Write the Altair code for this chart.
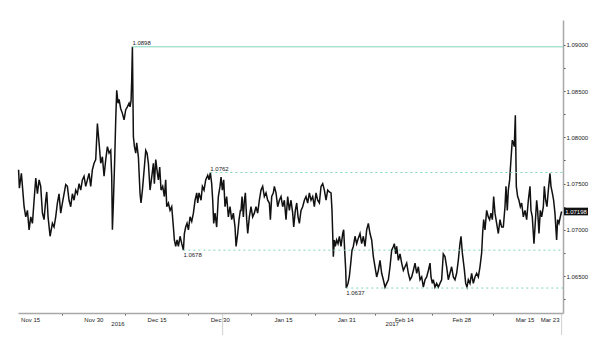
import altair as alt
import pandas as pd

# trading-day index (0 = Nov 11 2016) and rate
t = [0.0, 0.14, 0.49, 0.96, 1.25, 1.54, 1.83, 2.12, 2.41, 2.70, 2.99, 3.28, 3.57, 3.85, 4.15, 4.43, 4.72, 4.90,
     5.13, 5.48, 5.88, 6.17, 6.46, 6.75, 7.04, 7.33, 7.62, 7.91, 8.20, 8.49, 8.78, 9.07, 9.36, 9.65, 9.94,
     10.23, 10.52, 10.81, 11.10, 11.39, 11.68, 11.97, 12.26, 12.55, 12.84, 13.13, 13.42, 13.71, 14.00, 14.29,
     14.58, 14.87, 15.16, 15.45, 15.74, 16.03, 16.20, 16.32, 16.49, 16.72, 16.90, 17.07, 17.30, 17.48, 17.77,
     18.06, 18.35, 18.64, 18.93, 19.22,
     19.39, 19.57, 19.68, 19.80, 19.97, 20.15, 20.38, 20.55, 20.84, 21.13, 21.30, 21.54, 21.88, 22.12, 22.35,
     22.58, 22.87, 23.16, 23.45, 23.62, 23.86, 24.15, 24.32, 24.55, 24.78, 25.07, 25.36, 25.59, 25.77, 26.06,
     26.35, 26.64, 26.93, 27.10, 27.33, 27.57, 27.80, 28.09, 28.38, 28.67, 28.84, 29.07, 29.30, 29.54, 29.83,
     30.12, 30.41, 30.70, 30.99, 31.16, 31.39, 31.74, 31.97, 32.26, 32.55, 32.90, 33.13, 33.36, 33.59, 33.77,
     33.94, 34.17, 34.46, 34.75, 35.04, 35.22, 35.45, 35.68, 35.91, 36.20, 36.49, 36.78, 37.07, 37.36, 37.65,
     37.83, 38.12, 38.35, 38.58,
     38.70, 38.87, 39.10, 39.28, 39.45, 39.68, 39.86, 40.14, 40.43, 40.72, 41.01, 41.30, 41.59, 41.88, 42.17,
     42.46, 42.75, 43.04, 43.33, 43.62, 43.80, 44.03, 44.32, 44.49, 44.78, 45.07, 45.36, 45.65, 45.94, 46.23,
     46.52, 46.81, 47.10, 47.39, 47.68, 47.86, 48.14, 48.38, 48.61, 48.84, 49.13, 49.42, 49.71, 50.00, 50.29,
     50.58, 50.87, 51.16, 51.45, 51.74, 52.03, 52.32, 52.61, 52.90, 53.19, 53.48, 53.77, 54.06, 54.35, 54.52,
     54.64, 54.75, 54.93, 55.10, 55.33, 55.57, 55.80, 56.09, 56.38, 56.55, 56.72, 56.90, 57.00, 57.30, 57.53,
     57.83, 58.00,
     58.23, 58.52, 58.81, 59.10, 59.39, 59.68, 59.97, 60.26, 60.55, 60.84, 61.13, 61.42, 61.71, 62.00, 62.29,
     62.58, 62.87, 63.16, 63.45, 63.74, 64.03, 64.32, 64.61, 64.90, 65.19, 65.36, 65.59, 65.77, 66.06, 66.35,
     66.64, 66.93, 67.22, 67.51, 67.80, 68.09, 68.38, 68.67, 68.96, 69.25, 69.54, 69.83, 70.12, 70.41, 70.70,
     70.99, 71.28, 71.57, 71.74, 71.97, 72.14, 72.43, 72.72, 73.01, 73.30, 73.59, 73.88, 74.17, 74.46, 74.75,
     75.04, 75.33, 75.62, 75.91, 76.20, 76.49, 76.78, 76.96,
     77.19, 77.54, 77.77, 78.00, 78.23, 78.52, 78.81, 79.10, 79.39, 79.68, 79.97, 80.26, 80.55, 80.72, 80.90,
     81.13, 81.42, 81.71, 81.94, 82.17, 82.41, 82.64, 82.87, 83.16, 83.45, 83.74, 84.03, 84.32, 84.61, 84.78,
     85.01, 85.19, 85.42, 85.65, 85.88, 86.06, 86.23, 86.41, 86.58, 86.81, 87.04, 87.28, 87.51, 87.80, 88.09,
     88.38, 88.67, 88.96, 89.13, 89.36, 89.65, 89.83, 90.12, 90.29, 90.52, 90.75, 90.99, 91.28, 91.45, 91.68,
     91.91, 92.15, 92.44, 92.61, 92.84, 93.07, 93.30, 93.59, 93.77, 94.00, 94.23, 94.46]

rate = [1.0765, 1.0745, 1.0761, 1.0725, 1.0714, 1.0721, 1.0700, 1.0714, 1.0707, 1.0732, 1.0756, 1.0739, 1.0754,
        1.0747, 1.0718, 1.0711, 1.0732, 1.0741, 1.0714, 1.0693, 1.0707, 1.0703, 1.0714, 1.0729, 1.0739, 1.0718,
        1.0729, 1.0739, 1.0749, 1.0747, 1.0732, 1.0725, 1.0739, 1.0732, 1.0743, 1.0739, 1.0750, 1.0743, 1.0754,
        1.0758, 1.0747, 1.0754, 1.0761, 1.0747, 1.0765, 1.0772, 1.0776, 1.0815, 1.0794, 1.0772, 1.0779, 1.0758,
        1.0776, 1.0790, 1.0783, 1.0786, 1.0758, 1.0700, 1.0729, 1.0776, 1.0819, 1.0851, 1.0837, 1.0841, 1.0831,
        1.0826, 1.0819, 1.0830, 1.0833, 1.0837,
        1.0833, 1.0840, 1.0862, 1.0898, 1.0801, 1.0790, 1.0783, 1.0794, 1.0779, 1.0739, 1.0729, 1.0743, 1.0768,
        1.0786, 1.0783, 1.0772, 1.0743, 1.0757, 1.0772, 1.0750, 1.0776, 1.0761, 1.0754, 1.0768, 1.0743, 1.0747,
        1.0736, 1.0754, 1.0725, 1.0729, 1.0721, 1.0725, 1.0703, 1.0689, 1.0682, 1.0689, 1.0682, 1.0693, 1.0685,
        1.0678, 1.0696, 1.0703, 1.0707, 1.0700, 1.0714, 1.0709, 1.0718, 1.0732, 1.0740, 1.0729, 1.0740, 1.0732,
        1.0747, 1.0743, 1.0754, 1.0759, 1.0754, 1.0762, 1.0750, 1.0732, 1.0707, 1.0718, 1.0703, 1.0736, 1.0747,
        1.0757, 1.0743, 1.0754, 1.0725, 1.0736, 1.0714, 1.0725, 1.0711, 1.0718, 1.0703, 1.0682, 1.0696, 1.0711,
        1.0721,
        1.0721, 1.0736, 1.0714, 1.0732, 1.0740, 1.0711, 1.0696, 1.0714, 1.0725, 1.0714, 1.0718, 1.0725, 1.0718,
        1.0732, 1.0743, 1.0747, 1.0736, 1.0740, 1.0732, 1.0729, 1.0711, 1.0736, 1.0740, 1.0747, 1.0740, 1.0725,
        1.0732, 1.0736, 1.0725, 1.0732, 1.0711, 1.0736, 1.0721, 1.0732, 1.0718, 1.0703, 1.0721, 1.0729, 1.0714,
        1.0707, 1.0721, 1.0725, 1.0732, 1.0736, 1.0729, 1.0740, 1.0732, 1.0736, 1.0725, 1.0740, 1.0732, 1.0729,
        1.0747, 1.0750, 1.0743, 1.0732, 1.0743, 1.0741, 1.0740, 1.0721, 1.0696, 1.0671, 1.0689, 1.0682, 1.0689,
        1.0685, 1.0693, 1.0682, 1.0696, 1.0700, 1.0678, 1.0657, 1.0637, 1.0642, 1.0649, 1.0667, 1.0678,
        1.0682, 1.0693, 1.0685, 1.0691, 1.0696, 1.0685, 1.0693, 1.0682, 1.0700, 1.0707, 1.0696, 1.0689, 1.0671,
        1.0660, 1.0649, 1.0656, 1.0667, 1.0653, 1.0646, 1.0638, 1.0642, 1.0646, 1.0660, 1.0678, 1.0682, 1.0685,
        1.0674, 1.0682, 1.0667, 1.0674, 1.0664, 1.0656, 1.0660, 1.0664, 1.0653, 1.0646, 1.0649, 1.0656, 1.0664,
        1.0653, 1.0660, 1.0646, 1.0649, 1.0638, 1.0646, 1.0649, 1.0656, 1.0664, 1.0649, 1.0642, 1.0646, 1.0638,
        1.0642, 1.0638, 1.0642, 1.0646, 1.0674, 1.0671, 1.0660, 1.0646, 1.0653, 1.0660, 1.0649, 1.0646, 1.0653,
        1.0667, 1.0685, 1.0693,
        1.0675, 1.0657, 1.0642, 1.0638, 1.0646, 1.0642, 1.0653, 1.0642, 1.0649, 1.0653, 1.0649, 1.0660, 1.0675,
        1.0696, 1.0711, 1.0700, 1.0721, 1.0714, 1.0711, 1.0718, 1.0711, 1.0736, 1.0718, 1.0707, 1.0696, 1.0711,
        1.0703, 1.0703, 1.0725, 1.0747, 1.0721, 1.0743, 1.0754, 1.0776, 1.0797, 1.0794, 1.0790, 1.0824, 1.0747,
        1.0736, 1.0732, 1.0725, 1.0729, 1.0714, 1.0721, 1.0711, 1.0732, 1.0747, 1.0721, 1.0714, 1.0685, 1.0703,
        1.0732, 1.0721, 1.0696, 1.0721, 1.0714, 1.0725, 1.0747, 1.0732, 1.0725, 1.0743, 1.0761, 1.0747, 1.0740,
        1.0732, 1.0718, 1.0689, 1.0711, 1.0707, 1.0714, 1.07198]

level_values = [1.0898, 1.0762, 1.0678, 1.0637]
level_start = [19.80, 33.36, 28.67, 57.00]
level_text = ["1.0898", "1.0762", "1.0678", "1.0637"]
level_dashed = [False, True, True, True]
level_above = [True, True, False, False]

tick_pos = [2, 13, 24, 35, 46, 57, 67, 77, 88, 94]
tick_labels = ["Nov 15", "Nov 30", "Dec 15", "Dec 30", "Jan 15", "Jan 31", "Feb 14", "Feb 28", "Mar 15", "Mar 23"]
years = ["2016", "2017"]
year_pos = [17.3, 65.0]
year_marks = [35.5, 94.46]
y_major = ["1.06500", "1.07000", "1.07500", "1.08000", "1.08500", "1.09000"]
last_value = 1.07198
x_end = 94.7

minor_pos = [(a + b) / 2 for a, b in zip(tick_pos[:-2], tick_pos[1:-1])]
y_ticks = [round(1.0625 + 0.0025 * i, 4) for i in range(12)]

W, H = 545, 293
TEAL = "#7fd6bb"
FONT = "Liberation Sans Narrow, Liberation Sans, Arial, sans-serif"

series = pd.DataFrame({"t": t, "rate": rate})
levels = pd.DataFrame({"start": level_start, "level": level_values, "text": level_text,
                       "dashed": level_dashed, "above": level_above})
levels["end"] = x_end

label_expr = " : ".join(f"datum.value == {p} ? '{l}'" for p, l in zip(tick_pos, tick_labels)) + " : ''"
minor_test = "indexof([" + ",".join(str(m) for m in minor_pos) + "], datum.value) >= 0"
y_label_expr = "indexof([" + ",".join(f"'{v}'" for v in y_major) + "], datum.label) >= 0 ? datum.label : ''"

xscale = alt.Scale(domain=[-0.1, x_end], nice=False, zero=False)
yscale = alt.Scale(domain=[1.0610, 1.0927], nice=False, zero=False)

line = alt.Chart(series).mark_line(color="#111111", strokeWidth=1.5).encode(
    x=alt.X("t:Q", scale=xscale, axis=alt.Axis(
        values=sorted(tick_pos + minor_pos), tickCount=100, labelExpr=label_expr, title=None, grid=False,
        domainColor="#a8a8a8", domainWidth=1.5, tickColor="#555555", tickSize=2,
        tickOpacity={"condition": {"test": minor_test, "value": 1}, "value": 0},
        labelFontSize=6, labelPadding=1, labelOverlap=False, labelFlush=8, labelColor="#222222")),
    y=alt.Y("rate:Q", scale=yscale, axis=alt.Axis(
        orient="right", values=y_ticks, tickCount=100, title=None, grid=False, format=".5f",
        labelExpr=y_label_expr,
        domainColor="#a8a8a8", domainWidth=1.5, tickColor="#444444", tickSize=2,
        labelFontSize=6, labelPadding=1, labelOverlap=False, labelColor="#222222")),
)

solid = alt.Chart(levels[~levels["dashed"]]).mark_rule(color=TEAL, strokeWidth=1).encode(
    x=alt.X("start:Q", title=None), x2="end:Q", y=alt.Y("level:Q", title=None))
dashed = alt.Chart(levels[levels["dashed"]]).mark_rule(color=TEAL, strokeWidth=1, strokeDash=[2, 3]).encode(
    x=alt.X("start:Q", title=None), x2="end:Q", y=alt.Y("level:Q", title=None))

txt_above = alt.Chart(levels[levels["above"]]).mark_text(
    align="left", baseline="bottom", dy=-0.5, fontSize=6, color="#222222").encode(
    x=alt.X("start:Q", title=None), y=alt.Y("level:Q", title=None), text="text:N")
txt_below = alt.Chart(levels[~levels["above"]]).mark_text(
    align="left", baseline="top", dy=1.5, fontSize=6, color="#222222").encode(
    x=alt.X("start:Q", title=None), y=alt.Y("level:Q", title=None), text="text:N")

year_df = pd.DataFrame({"pos": year_pos, "year": years})
year_txt = alt.Chart(year_df).mark_text(fontSize=6, color="#222222", baseline="middle").encode(
    x=alt.X("pos:Q", title=None), y=alt.value(H + 11), text="year:N")

ymark_df = pd.DataFrame({"pos": year_marks})
ymarks = alt.Chart(ymark_df).mark_rule(color="#cfcfcf", strokeWidth=1).encode(
    x=alt.X("pos:Q", title=None), y=alt.value(H + 1), y2=alt.value(H + 22))

last_df = pd.DataFrame({"rate": [last_value], "lbl": [f"{last_value:.5f}"]})
box = alt.Chart(last_df).mark_point(
    shape="M-1,-0.32L1,-0.32L1,0.32L-1,0.32Z", filled=True, size=576, color="#111111", opacity=1).encode(
    x=alt.value(W + 13), y=alt.Y("rate:Q", title=None))
box_txt = alt.Chart(last_df).mark_text(fontSize=6, color="white", align="center", baseline="middle").encode(
    x=alt.value(W + 13), y=alt.Y("rate:Q", title=None), text="lbl:N")

chart = alt.layer(line, solid, dashed, txt_above, txt_below, year_txt, ymarks, box, box_txt).properties(
    width=W, height=H, autosize="none",
    padding={"left": 18, "top": 20, "right": 37, "bottom": 33},
    background="white",
).configure(font=FONT).configure_view(strokeWidth=0)

chart.save("out.html", embed_options={"renderer": "svg", "actions": False})
